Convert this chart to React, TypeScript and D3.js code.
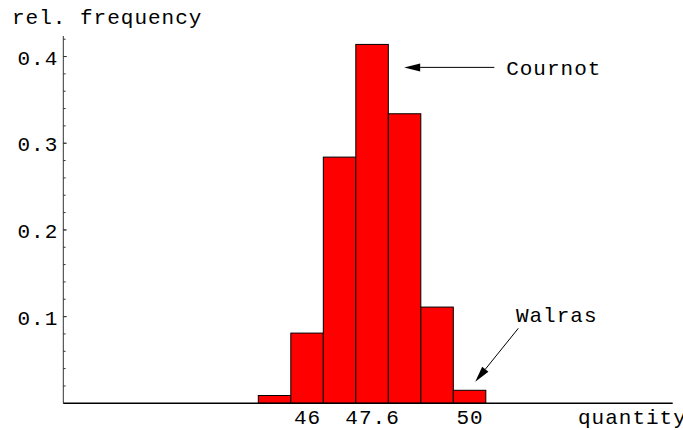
import * as d3 from "d3";

// histogram bins (quantity) and relative frequency per bin
const binEdges = [44.8, 45.6, 46.4, 47.2, 48.0, 48.8, 49.6, 50.4];
const freqs = [0.009, 0.081, 0.284, 0.414, 0.334, 0.111, 0.015];

const xTickValues = [46, 47.6, 50];
const xTickLabels = ["46", "47.6", "50"];
const yTickValues = [0.1, 0.2, 0.3, 0.4];
const yTickLabels = ["0.1", "0.2", "0.3", "0.4"];

// annotations in data units: label position, arrow tail, arrow tip
const annotations = [
  { label: "Cournot", tx: 50.9, ty: 0.379, x1: 50.61, y1: 0.3875, x2: 48.39, y2: 0.3875 },
  { label: "Walras", tx: 51.14, ty: 0.0941, x1: 51.2, y1: 0.0865, x2: 50.14, y2: 0.0249 },
];

const font = "'Liberation Mono', 'Courier New', monospace";

export default function App() {
  const width = 683;
  const height = 430;

  const x = d3.scaleLinear().domain([40, 55]).range([63.3, 672.7]);
  const y = d3.scaleLinear().domain([0, 0.4237]).range([403.3, 36]);

  const bars = freqs.map((f, i) => ({ x0: binEdges[i], x1: binEdges[i + 1], f }));
  const minorTicks = d3.range(1, 22).map((i) => i * 0.02);

  return (
    <svg
      width={width}
      height={height}
      style={{ position: "absolute", left: 0, top: 0, background: "#fff" }}
      fontFamily={font}
      fontSize={21}
      letterSpacing={1}
    >
      {/* bars */}
      {bars.map((b, i) => (
        <rect
          key={i}
          x={x(b.x0)}
          y={y(b.f)}
          width={x(b.x1) - x(b.x0)}
          height={y(0) - y(b.f)}
          fill="#ff0000"
          stroke="#000"
          strokeWidth={1}
        />
      ))}

      {/* y axis */}
      <line x1={x(40)} x2={x(40)} y1={y(0)} y2={y(0.4237)} stroke="#333" strokeWidth={1} />
      {minorTicks.map((t) => (
        <line key={t} x1={x(40)} x2={x(40) + 2.3} y1={y(t)} y2={y(t)} stroke="#333" strokeWidth={1} />
      ))}
      {yTickValues.map((t, i) => (
        <g key={t}>
          <line x1={x(40)} x2={x(40) + 3.5} y1={y(t)} y2={y(t)} stroke="#333" strokeWidth={1} />
          <text x={x(40) - 5} y={y(t) + 8} textAnchor="end" fill="#000">
            {yTickLabels[i]}
          </text>
        </g>
      ))}

      {/* x axis */}
      <line x1={x(40)} x2={x(55)} y1={y(0)} y2={y(0)} stroke="#000" strokeWidth={1.4} />
      {xTickValues.map((t, i) => (
        <text key={t} x={x(t) + 0.5} y={424} textAnchor="middle" fill="#000">
          {xTickLabels[i]}
        </text>
      ))}

      {/* axis labels */}
      <text x={12} y={24} fill="#000">rel. frequency</text>
      <text x={578} y={424} fill="#000">quantity</text>

      {/* annotations */}
      {annotations.map((a) => {
        const px1 = x(a.x1), py1 = y(a.y1), px2 = x(a.x2), py2 = y(a.y2);
        const ang = Math.atan2(py2 - py1, px2 - px1);
        const len = 16, half = 4;
        const bx = px2 - len * Math.cos(ang), by = py2 - len * Math.sin(ang);
        const head = [
          [px2, py2],
          [bx + half * Math.sin(ang), by - half * Math.cos(ang)],
          [bx - half * Math.sin(ang), by + half * Math.cos(ang)],
        ];
        return (
          <g key={a.label}>
            <line x1={px1} y1={py1} x2={bx} y2={by} stroke="#000" strokeWidth={1} />
            <polygon points={head.map((p) => p.join(",")).join(" ")} fill="#000" />
            <text x={x(a.tx)} y={y(a.ty)} fill="#000">{a.label}</text>
          </g>
        );
      })}
    </svg>
  );
}
